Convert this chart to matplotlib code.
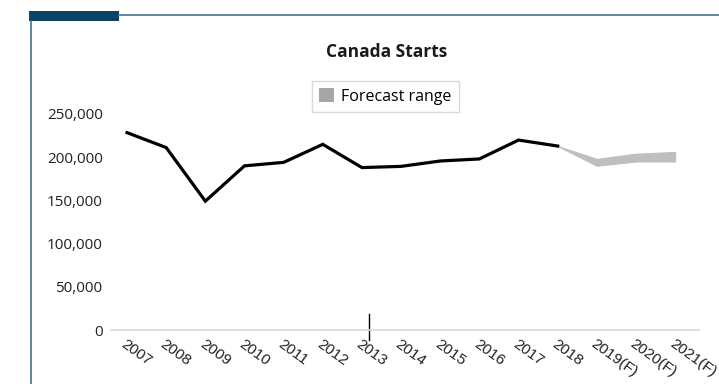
import numpy as np
import matplotlib.pyplot as plt
from matplotlib.patches import Patch, Rectangle
from matplotlib.lines import Line2D

# Housing starts, actuals and forecast range
years = ["2007", "2008", "2009", "2010", "2011", "2012", "2013", "2014",
         "2015", "2016", "2017", "2018", "2019(F)", "2020(F)", "2021(F)"]
actual = [228343, 211056, 149081, 189930, 193950, 214827, 187923, 189329,
          195535, 197916, 219763, 212843]
forecast_low = [212843, 190000, 195000, 195000]
forecast_high = [212843, 198000, 204000, 206000]
yticks = [0, 50000, 100000, 150000, 200000, 250000]

W, H = 719, 384
fig = plt.figure(figsize=(W / 100, H / 100), dpi=100)

# page frame: dark tab, top rule and left rule
fig.add_artist(Rectangle((29 / W, 1 - 21 / H), 90 / W, 10 / H, transform=fig.transFigure,
                         facecolor="#0b4266", edgecolor="none"))
fig.add_artist(Line2D([119 / W, 1], [1 - 14.7 / H] * 2, transform=fig.transFigure,
                      color="#44718f", lw=1.2))
fig.add_artist(Line2D([31 / W] * 2, [0, 1 - 21 / H], transform=fig.transFigure,
                      color="#44718f", lw=1.2))

ax = fig.add_axes([111 / W, 54 / H, 588 / W, 242 / H])
x = np.arange(len(years))
xa = x[:len(actual)]
xf = x[len(actual) - 1:]

ax.fill_between(xf, forecast_low, forecast_high, color="#bfbfbf", lw=0.8, edgecolor="#bfbfbf")
ax.plot(xa, actual, color="black", lw=2.3, solid_joinstyle="miter")

ax.set_xlim(-0.41, 14.61)
ax.set_ylim(0, 280000)

for s in ["top", "right", "left"]:
    ax.spines[s].set_visible(False)
ax.spines["bottom"].set_color("#d9d9d9")
ax.spines["bottom"].set_linewidth(1.2)

ax.set_yticks(yticks)
ax.set_yticklabels([f"{v:,}" for v in yticks], family="Open Sans", fontsize=11, color="#222222")
ax.set_xticks(x)
ax.set_xticklabels(years, rotation=-36, ha="left", va="top", rotation_mode="anchor",
                   family="Liberation Sans", fontsize=11, color="#222222")
ax.tick_params(axis="both", length=0)
ax.tick_params(axis="y", pad=6)
ax.tick_params(axis="x", pad=5)

# stray cursor mark in the original screenshot
ax.axvline(6.18, ymin=-0.04, ymax=0.065, color="black", lw=1, clip_on=False)

fig.text(387 / W, 1 - 52 / H, "Canada Starts", ha="center", va="center",
         family="Open Sans", fontweight="bold", fontsize=12.5, color="#1a1a1a")

leg = fig.legend(handles=[Patch(facecolor="#a6a6a6", edgecolor="none", label="Forecast range")],
                 loc="center", bbox_to_anchor=(385.5 / W, 1 - 96.5 / H),
                 frameon=True, fancybox=False, edgecolor="#d0d0d0",
                 handlelength=0.9, handleheight=0.9, handletextpad=0.5,
                 borderpad=0.45, prop={"family": "Open Sans", "size": 11.5})
leg.get_frame().set_linewidth(1)

fig.savefig("out.png", dpi=100)
